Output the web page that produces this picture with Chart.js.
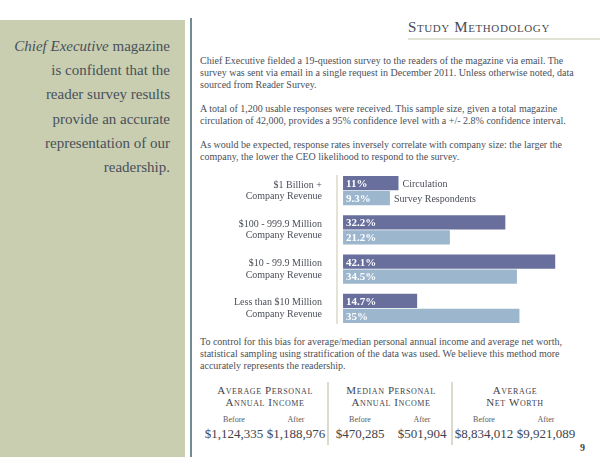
<!DOCTYPE html>
<html>
<head>
<meta charset="utf-8">
<script src="https://cdn.jsdelivr.net/npm/chart.js@4/dist/chart.umd.min.js"></script>
<style>
  html, body { margin: 0; padding: 0; background: #fff; }
  body { width: 600px; height: 464px; position: relative; overflow: hidden;
         font-family: 'Liberation Serif', 'Times New Roman', serif; color: #4b4f58; }
  .abs { position: absolute; white-space: nowrap; }
  #painel { left: 0; top: 20px; width: 185px; height: 437px; background: #c9ceb0; }
  #painel p { margin: 0; position: absolute; right: 15px; top: 14px; text-align: right;
              font-size: 15px; line-height: 24.2px; color: #48505c; }
  #fio { left: 190px; top: 18px; width: 1.5px; height: 439px; background: #6f8c8e; }
  #titulo { left: 408px; top: 18px; font-size: 15px; font-variant: small-caps; letter-spacing: 0.6px;
            line-height: 18px; color: #474b54; }
  #sublinha { left: 408px; top: 38px; width: 192px; height: 2px; background: #e3e3d5; }
  .txt { left: 200px; font-size: 10px; line-height: 12px; margin: 0; }
  #grafico { left: 200px; top: 165px; width: 400px; height: 170px; }
  .col { top: 384px; width: 124px; text-align: center; }
  .col h4 { margin: 0; font-weight: normal; font-variant: small-caps; font-size: 11px; line-height: 12px;
            letter-spacing: 0.6px; color: #3f434c; height: 30px; }
  .col .par { display: flex; }
  .col .par div { width: 62px; }
  .col .rot { font-size: 8px; line-height: 10px; color: #555a62; margin-top: 1px; }
  .col .val { font-size: 13px; line-height: 15px; color: #3f434c; margin-top: 1px; }
  .div { top: 382px; width: 2px; height: 63px; background: #dcdacd; }
  #pagina { left: 580px; top: 442px; font-size: 10px; font-weight: bold; color: #3f434c; }
</style>
</head>
<body>
  <div id="painel" class="abs"><p><i>Chief Executive</i> magazine<br>is confident that the<br>reader survey results<br>provide an accurate<br>representation of our<br>readership.</p></div>
  <div id="fio" class="abs"></div>

  <div id="titulo" class="abs">Study Methodology</div>
  <div id="sublinha" class="abs"></div>

  <p class="abs txt" style="top:55px">Chief Executive fielded a 19-question survey to the readers of the magazine via email. The<br>survey was sent via email in a single request in December 2011. Unless otherwise noted, data<br>sourced from Reader Survey.</p>
  <p class="abs txt" style="top:103px">A total of 1,200 usable responses were received. This sample size, given a total magazine<br>circulation of 42,000, provides a 95% confidence level with a +/- 2.8% confidence interval.</p>
  <p class="abs txt" style="top:139px">As would be expected, response rates inversely correlate with company size: the larger the<br>company, the lower the CEO likelihood to respond to the survey.</p>

  <div id="grafico" class="abs"><canvas id="barras"></canvas></div>

  <p class="abs txt" style="top:336px">To control for this bias for average/median personal annual income and average net worth,<br>statistical sampling using stratification of the data was used. We believe this method more<br>accurately represents the readership.</p>

  <div class="abs col" style="left:203px">
    <h4>Average Personal<br>Annual Income</h4>
    <div class="par rot"><div>Before</div><div>After</div></div>
    <div class="par val"><div>$1,124,335</div><div>$1,188,976</div></div>
  </div>
  <div class="abs div" style="left:327px"></div>
  <div class="abs col" style="left:329px">
    <h4>Median Personal<br>Annual Income</h4>
    <div class="par rot"><div>Before</div><div>After</div></div>
    <div class="par val"><div>$470,285</div><div>$501,904</div></div>
  </div>
  <div class="abs div" style="left:451px"></div>
  <div class="abs col" style="left:453px">
    <h4>Average<br>Net Worth</h4>
    <div class="par rot"><div>Before</div><div>After</div></div>
    <div class="par val"><div>$8,834,012</div><div>$9,921,089</div></div>
  </div>
  <div id="pagina" class="abs">9</div>

<script>
  const CATEGORIAS = [
    ['$1 Billion +', 'Company Revenue'],
    ['$100 - 999.9 Million', 'Company Revenue'],
    ['$10 - 99.9 Million', 'Company Revenue'],
    ['Less than $10 Million', 'Company Revenue']
  ];
  const SERIES = ['Circulation', 'Survey Respondents'];
  const CIRCULACAO = [11, 32.2, 42.1, 14.7];
  const RESPONDENTES = [9.3, 21.2, 34.5, 35];

  const FONTE = "'Liberation Serif', 'Times New Roman', serif";
  const TEXTO = '#4b4f58';
  const AZUL_ESCURO = '#686f9c';
  const AZUL_CLARO = '#9cb6ce';

  // eixo, valores dentro das barras e legenda ao lado do primeiro grupo
  const rotulosPlugin = {
    id: 'rotulos',
    afterDatasetsDraw: function (chart) {
      const ctx = chart.ctx;
      const area = chart.chartArea;
      const m0 = chart.getDatasetMeta(0);
      const m1 = chart.getDatasetMeta(1);
      const primeira = m0.data[0];
      const ultima = m1.data[m1.data.length - 1];
      ctx.save();
      ctx.strokeStyle = '#dcd9c8';
      ctx.lineWidth = 1.5;
      ctx.beginPath();
      ctx.moveTo(area.left, primeira.y - primeira.height / 2 - 1);
      ctx.lineTo(area.left, ultima.y + ultima.height / 2 + 1);
      ctx.stroke();

      ctx.textBaseline = 'middle';
      ctx.textAlign = 'left';
      ctx.font = 'bold 11px ' + FONTE;
      ctx.fillStyle = '#ffffff';
      chart.data.datasets.forEach(function (ds, i) {
        chart.getDatasetMeta(i).data.forEach(function (bar, j) {
          ctx.fillText(ds.data[j] + '%', bar.base + 3, bar.y + 1);
        });
      });

      ctx.font = '10px ' + FONTE;
      ctx.fillStyle = TEXTO;
      chart.data.datasets.forEach(function (ds, i) {
        const bar = chart.getDatasetMeta(i).data[0];
        ctx.fillText(ds.label, bar.x + 4, bar.y + 1);
      });
      ctx.restore();
    }
  };

  new Chart(document.getElementById('barras'), {
    type: 'bar',
    data: {
      labels: CATEGORIAS,
      datasets: [
        { label: SERIES[0], data: CIRCULACAO, backgroundColor: AZUL_ESCURO },
        { label: SERIES[1], data: RESPONDENTES, backgroundColor: AZUL_CLARO }
      ]
    },
    options: {
      indexAxis: 'y',
      responsive: true,
      maintainAspectRatio: false,
      animation: false,
      categoryPercentage: 0.76,
      barPercentage: 0.95,
      layout: { padding: { top: 6, bottom: 7, right: 10 } },
      plugins: { legend: { display: false }, tooltip: { enabled: false } },
      scales: {
        x: { display: false, min: -1.2, max: 49 },
        y: {
          grid: { display: false },
          border: { display: false },
          afterFit: function (s) { s.width = 137; s.paddingTop = 0; s.paddingBottom = 0; },
          ticks: { padding: 7, color: TEXTO, font: { family: FONTE, size: 10, lineHeight: 1.15 } }
        }
      }
    },
    plugins: [rotulosPlugin]
  });
</script>
</body>
</html>
